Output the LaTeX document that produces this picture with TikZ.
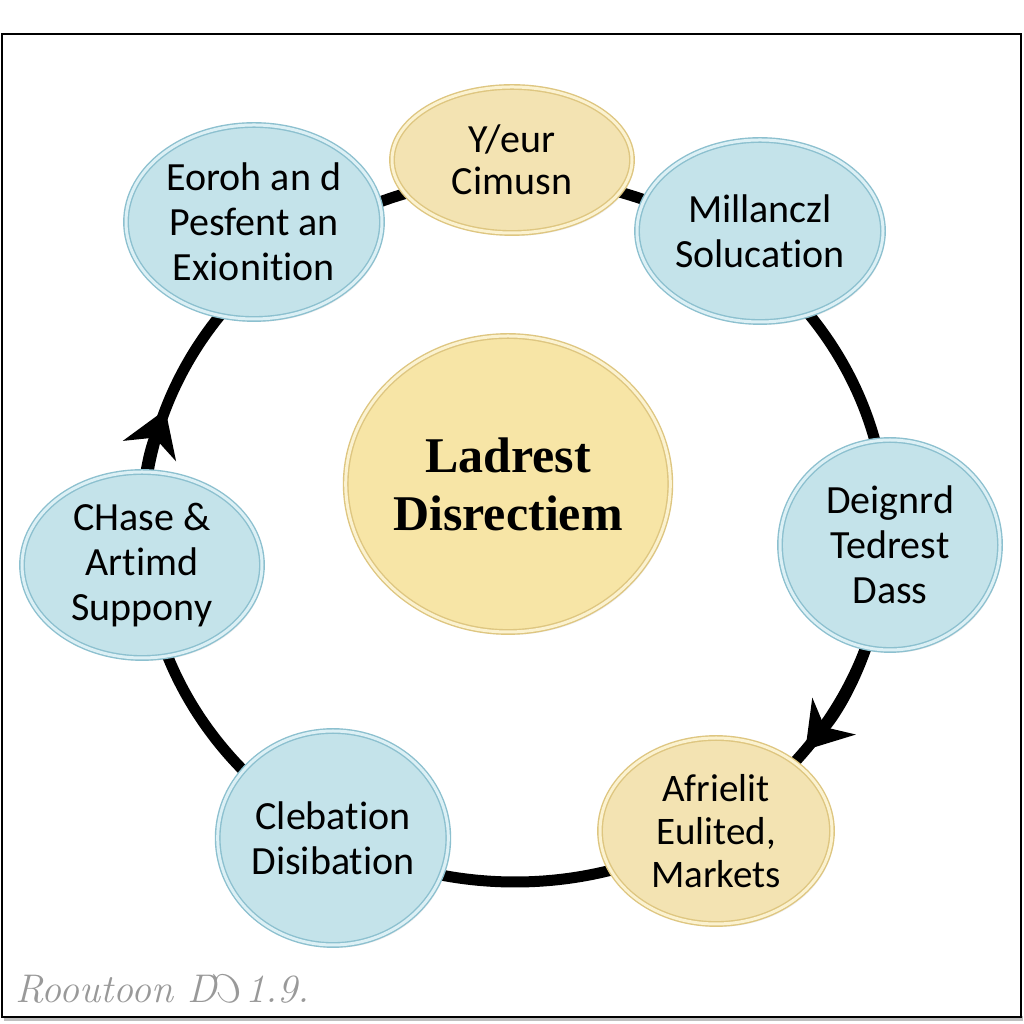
\documentclass[tikz,border=0pt]{standalone}
\usepackage{fontspec}
\setmainfont{Carlito}[Ligatures=NoCommon]
\newfontfamily\cfont{Liberation Serif}
\newfontfamily\lmfont{Latin Modern Roman}
\usepackage{graphicx}
\usetikzlibrary{arrows.meta,shapes.geometric,shadows}
\definecolor{bfill}{RGB}{196,227,234}
\definecolor{bline}{RGB}{140,192,207}
\definecolor{bband}{RGB}{220,240,245}
\definecolor{yfill}{RGB}{243,227,178}
\definecolor{yline}{RGB}{222,198,128}
\definecolor{yband}{RGB}{251,242,208}
\definecolor{cfill}{RGB}{247,229,166}
\begin{document}
\begin{tikzpicture}[x=1pt,y=1pt,
  bub/.style={ellipse, inner sep=0pt, align=center, line width=1.4pt, double distance=3pt,
    font=\fontsize{40}{45}\selectfont,
    drop shadow={opacity=0.12, shadow xshift=2pt, shadow yshift=-3pt}},
  bluebub/.style={bub, fill=bfill, draw=bline, double=bband},
  tanbub/.style={bub, fill=yfill, draw=yline, double=yband},
  ring/.style={line width=11pt, black},
  tipped/.style={-{Stealth[length=44pt,width=56pt,inset=14pt]}}
]
\useasboundingbox (0,0) rectangle (1024,1024);
\fill[white] (0,0) rectangle (1024,1024);
\fill[black!25] (4,3) rectangle (1023,8);
\draw[line width=2.2pt, fill=white] (2,7) rectangle (1021,990);

\coordinate (rc) at (515,494);
\draw[ring] (rc) ellipse [x radius=372, y radius=352];
\draw[ring,tipped] ([shift={(195:372 and 352)}]rc) arc[start angle=195, end angle=160, x radius=372, y radius=352];
\draw[ring,tipped] ([shift={(-8:372 and 352)}]rc) arc[start angle=-8, end angle=-38.7, x radius=372, y radius=352];

\node[tanbub, minimum width=240, minimum height=146, font=\fontsize{40}{42}\selectfont] (top) at (512,864) {Y\kern-3pt/eur\\Cimusn};
\node[bluebub, minimum width=256, minimum height=194] (tl) at (254,802) {Eoroh an d\\Pesfent an\\Exionition};
\node[bluebub, minimum width=246, minimum height=182] (tr) at (760,793) {Millanczl\\Solucation};
\node[bluebub, minimum width=220, minimum height=210] (rt) at (890,479) {Deignrd\\Tedrest\\Dass};
\node[tanbub, minimum width=232, minimum height=186, font=\fontsize{39}{43}\selectfont] (br) at (716,193) {Afrielit\\Eulited,\\Markets};
\node[bluebub, minimum width=224, minimum height=214] (bt) at (333,186) {Clebation\\Disibation};
\node[bluebub, minimum width=240, minimum height=186] (lf) at (142,459) {CHase \&\\Artimd\\Suppony};

\node[bub, fill=cfill, draw=yline, double=yband, minimum width=310, minimum height=296,
  font=\cfont\bfseries\fontsize{50}{58}\selectfont] (ctr) at (508,540) {Ladrest\\Disrectiem};

\node[anchor=base west, inner sep=0pt, text=black!40, font=\lmfont\itshape\fontsize{40}{40}\selectfont] (wm) at (15,21) {Rooutoon D\reflectbox{C}1.9.};
\end{tikzpicture}
\end{document}
